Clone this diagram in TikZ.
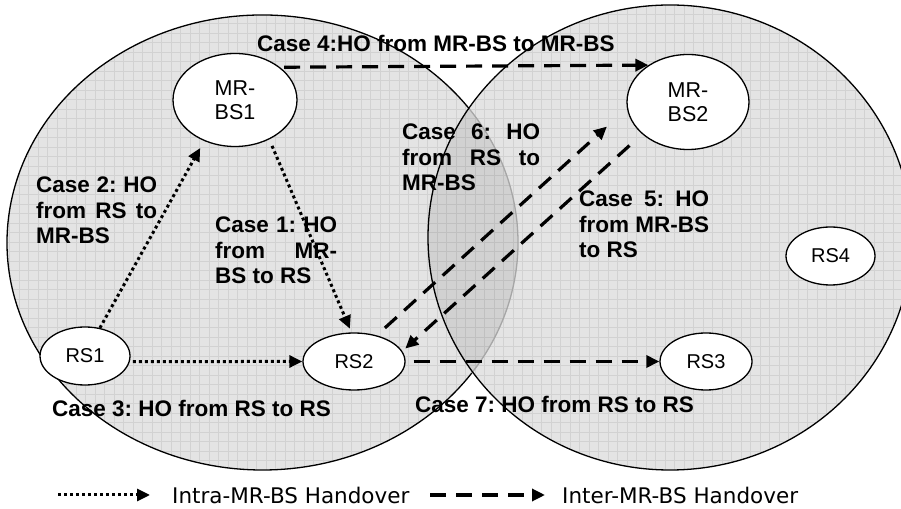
\documentclass[tikz,border=0pt]{standalone}
\usepackage{fontspec}
\setmainfont{Liberation Sans}
\newfontfamily\legendfont{DejaVu Sans}
\usetikzlibrary{arrows.meta,shapes.geometric}
\frenchspacing
\newcommand{\spreadline}[2]{\makebox[#1][s]{#2}}
\tikzset{
  station/.style={draw, ellipse, fill=white, line width=1.3pt, inner sep=0pt,
                  font=\fontsize{21.5}{24}\selectfont, align=left},
  rsnode/.style={station, font=\fontsize{20}{24}\selectfont},
  casetext/.style={font=\bfseries\fontsize{22.5}{25.5}\selectfont, inner sep=0pt, align=left},
  legendtext/.style={font=\legendfont\fontsize{21.5}{24}\selectfont, inner sep=0pt},
  intra/.style={line width=3pt, dash pattern=on 3pt off 3pt, -{Triangle[length=13pt,width=12pt]}},
  inter/.style={line width=3.2pt, dash pattern=on 16pt off 10pt, -{Triangle[length=13pt,width=12pt]}},
}
\begin{document}
\begin{tikzpicture}[x=1pt, y=1pt]
      \useasboundingbox (0,0) rectangle (901,508);
      %
      \begin{scope} % cells, filled
        \clip (262.5,265.5) ellipse [x radius=255.5, y radius=227.5]
              (670,270.5) ellipse [x radius=242, y radius=232.5];
        \fill[gray!21] (0,0) rectangle (901,508);
        \begin{scope}
          \clip (262.5,265.5) ellipse [x radius=255.5, y radius=227.5];
          \fill[gray!36] (670,270.5) ellipse [x radius=242, y radius=232.5]; % overlap
        \end{scope}
        \draw[black, opacity=0.08, line width=0.6pt, step=9.5] (0,0) grid (901,508);
      \end{scope}
      %
      \draw[line width=1.3pt] (262.5,265.5) ++(36:255.5 and 227.5)
        arc[start angle=36, end angle=325, x radius=255.5, y radius=227.5];   % left cell
      \draw[gray!70, line width=1.3pt] (262.5,265.5) ++(-35:255.5 and 227.5)
        arc[start angle=-35, end angle=36, x radius=255.5, y radius=227.5];
      \draw[line width=1.3pt] (670,270.5) ellipse [x radius=242, y radius=232.5]; % right cell
      %
      \node[station, minimum width=124, minimum height=93] (mrbs1) at (235,408) {MR-\\BS1};
      \node[station, minimum width=122, minimum height=95] (mrbs2) at (688,406) {MR-\\BS2};
      \node[rsnode, minimum width=90, minimum height=58] (rs1) at (85,152) {RS1};
      \node[rsnode, minimum width=102, minimum height=57] (rs2) at (354,146.5) {RS2};
      \node[rsnode, minimum width=92, minimum height=57] (rs3) at (706,146.5) {RS3};
      \node[rsnode, minimum width=89, minimum height=58] (rs4) at (830.5,252) {RS4};
      %
      \draw[intra, shorten >=4, shorten <=7] (mrbs1.311) -- (rs2.95);     % case 1
      \draw[intra, shorten >=8] (rs1.62) -- (mrbs1.233);                  % case 2
      \draw[intra, shorten <=3] (rs1.-7) -- (rs2.west);                   % case 3
      %%
      \draw[inter, shorten <=4] (mrbs1.36) -- (mrbs2.137);                % case 4
      \draw[inter, shorten <=17, shorten >=4] (mrbs2.215) -- (rs2.12);    % case 5
      \draw[inter, shorten <=11, shorten >=27] (rs2.49) -- (mrbs2.186);   % case 6
      \draw[inter, shorten <=8] (rs2.east) -- (rs3.west);                 % case 7
      %
      \node[casetext, anchor=north west] (case1) at (215,291.3)
        {\spreadline{122pt}{Case 1: HO}\\\spreadline{122pt}{from MR-}\\BS to RS};
      \node[casetext, anchor=north west] (case2) at (36,331.3)
        {\spreadline{121pt}{Case 2: HO}\\\spreadline{121pt}{from RS to}\\MR-BS};
      \node[casetext, anchor=base west] (case3) at (52,91) {Case 3: HO from RS to RS};
      \node[casetext, anchor=base west] (case4) at (257,456) {Case 4:HO from MR-BS to MR-BS};
      \node[casetext, anchor=north west] (case5) at (579,317.3)
        {\spreadline{130pt}{Case 5: HO}\\\spreadline{130pt}{from MR-BS}\\to RS};
      \node[casetext, anchor=north west] (case6) at (402,384.3)
        {\spreadline{138pt}{Case 6: HO}\\\spreadline{138pt}{from RS to}\\MR-BS};
      \node[casetext, anchor=base west] (case7) at (415,95) {Case 7: HO from RS to RS};
      %
      \coordinate (intra start) at (58,13);                               % legend
      \coordinate (inter start) at (430,13);
      \node[legendtext, anchor=base west] (intra label) at (172,5) {Intra-MR-BS Handover};
      \node[legendtext, anchor=base west] (inter label) at (562,5) {Inter-MR-BS Handover};
      \draw[intra, shorten >=22] (intra start) -- (intra start -| intra label.west);
      \draw[inter, shorten >=17] (inter start) -- (inter start -| inter label.west);
      %
    \end{tikzpicture}
\end{document}
